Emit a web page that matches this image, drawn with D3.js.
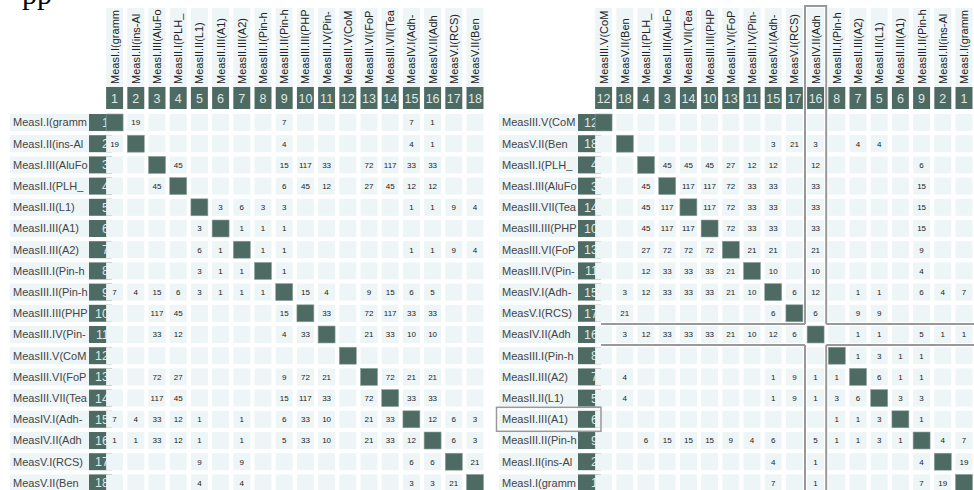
<!DOCTYPE html>
<html>
<head>
<meta charset="utf-8">
<script src="https://cdn.jsdelivr.net/npm/d3@7"></script>
<style>
  body { margin: 0; background: #fff; overflow: hidden; }
  text { font-family: "Liberation Sans", Arial, sans-serif; }
</style>
</head>
<body>
<div id="my_dataviz"></div>
<script>
// node labels (id 1..18)
var labels = ["MeasI.I(gramm", "MeasI.II(ins-Al", "MeasI.III(AluFo", "MeasII.I(PLH_",
  "MeasII.II(L1)", "MeasII.III(A1)", "MeasII.III(A2)", "MeasIII.I(Pin-h", "MeasIII.II(Pin-h",
  "MeasIII.III(PHP", "MeasIII.IV(Pin-", "MeasIII.V(CoM", "MeasIII.VI(FoP", "MeasIII.VII(Tea",
  "MeasIV.I(Adh-", "MeasIV.II(Adh", "MeasV.I(RCS)", "MeasV.II(Ben"];

// orders of the two matrices
var orderLeft = [1, 2, 3, 4, 5, 6, 7, 8, 9, 10, 11, 12, 13, 14, 15, 16, 17, 18];
var orderRight = [12, 18, 4, 3, 14, 10, 13, 11, 15, 17, 16, 8, 7, 5, 6, 9, 2, 1];

// links: source, target, weight
var linkSource = [1, 1, 1, 1, 2, 2, 2, 3, 3, 3, 3, 3, 3, 3, 3, 4, 4, 4, 4, 4, 4, 4,
  5, 5, 5, 5, 5, 5, 5, 5, 6, 6, 6, 7, 7, 7, 7, 7, 7, 8, 9, 9, 9, 9, 9, 9,
  10, 10, 10, 10, 10, 11, 11, 11, 11, 13, 13, 13, 14, 14, 15, 15, 15, 16, 16, 17];
var linkTarget = [2, 9, 15, 16, 9, 15, 16, 4, 9, 10, 11, 13, 14, 15, 16, 9, 10, 11, 13, 14, 15, 16,
  6, 7, 8, 9, 15, 16, 17, 18, 7, 8, 9, 8, 9, 15, 16, 17, 18, 9, 10, 11, 13, 14, 15, 16,
  11, 13, 14, 15, 16, 13, 14, 15, 16, 14, 15, 16, 15, 16, 16, 17, 18, 17, 18, 18];
var linkValue = [19, 7, 7, 1, 4, 4, 1, 45, 15, 117, 33, 72, 117, 33, 33, 6, 45, 12, 27, 45, 12, 12,
  3, 6, 3, 3, 1, 1, 9, 4, 1, 1, 1, 1, 1, 1, 1, 9, 4, 1, 15, 4, 9, 15, 6, 5,
  33, 72, 117, 33, 33, 21, 33, 10, 10, 72, 21, 21, 33, 33, 12, 6, 3, 6, 3, 21];

var highlightNode = 16;   // crosshair on the right matrix
var hoverLabel = 6;       // outlined row label on the right matrix

var width = 974, height = 490;
var dark = "#4e6b63", light = "#edf5f7";

var svg = d3.select("#my_dataviz")
  .append("svg")
    .attr("width", width)
    .attr("height", height);

// clip paths for the labels
var defs = svg.append("defs");
defs.append("clipPath").attr("id", "rowclip")
  .append("rect").attr("x", 10).attr("y", -2).attr("width", 78).attr("height", 22);
defs.append("clipPath").attr("id", "colclip")
  .append("rect").attr("x", -2).attr("y", 8).attr("width", 22).attr("height", 78);

// weight lookup
var weight = {};
linkSource.forEach(function(s, i) {
  weight[s + "-" + linkTarget[i]] = linkValue[i];
  weight[linkTarget[i] + "-" + s] = linkValue[i];
});

svg.append("text")
  .attr("x", 22)
  .attr("y", 4)
  .style("font-family", "'Liberation Serif', 'Times New Roman', serif")
  .style("font-size", "30px")
  .attr("fill", "#000")
  .text("pp");

function drawMatrix(order, ox, highlight) {
  var g = svg.append("g").attr("transform", "translate(" + ox + ",0)");

  var x = d3.scaleBand()
    .domain(order)
    .range([104, 104 + 18 * 21.2])
    .paddingInner(0.2)
    .paddingOuter(0.1);
  var y = d3.scaleBand()
    .domain(order)
    .range([111.9, 111.9 + 18 * 21.2])
    .paddingInner(0.2)
    .paddingOuter(0.1);
  var bw = x.bandwidth();

  // column headers
  var col = g.selectAll(".col")
    .data(order)
    .enter().append("g")
      .attr("transform", function(d) { return "translate(" + x(d) + ",0)"; });
  col.append("rect")
    .attr("y", 8).attr("width", bw).attr("height", 79)
    .attr("fill", light);
  col.append("rect")
    .attr("y", 87).attr("width", bw).attr("height", 22)
    .attr("fill", dark);
  col.append("g")
    .attr("clip-path", "url(#colclip)")
    .append("text")
      .attr("transform", "translate(" + (bw / 2 + 4) + ",84)rotate(-90)")
      .attr("font-size", "11px")
      .attr("fill", "#222")
      .text(function(d) { return labels[d - 1]; });
  col.append("text")
    .attr("x", bw / 2).attr("y", 103)
    .attr("text-anchor", "middle")
    .attr("font-size", "12.5px")
    .attr("fill", "#dfe9e6")
    .text(function(d) { return d; });

  // row headers
  var row = g.selectAll(".row")
    .data(order)
    .enter().append("g")
      .attr("transform", function(d) { return "translate(0," + y(d) + ")"; });
  row.append("rect")
    .attr("x", 10).attr("width", 79).attr("height", bw)
    .attr("fill", light);
  row.append("rect")
    .attr("x", 89).attr("width", 23).attr("height", bw)
    .attr("fill", dark);
  row.append("g")
    .attr("clip-path", "url(#rowclip)")
    .append("text")
      .attr("x", 13).attr("y", bw / 2 + 4)
      .attr("font-size", "11px")
      .attr("fill", "#444")
      .text(function(d) { return labels[d - 1]; });
  row.append("text")
    .attr("x", 109).attr("y", bw / 2 + 4.5)
    .attr("text-anchor", "end")
    .attr("font-size", "12.5px")
    .attr("fill", "#dfe9e6")
    .text(function(d) { return d; });

  // cells
  var cells = [];
  order.forEach(function(r) {
    order.forEach(function(c) {
      cells.push({ r: r, c: c, v: weight[r + "-" + c] });
    });
  });
  var cell = g.selectAll(".cell")
    .data(cells)
    .enter().append("g")
      .attr("transform", function(d) { return "translate(" + x(d.c) + "," + y(d.r) + ")"; });
  cell.append("rect")
    .attr("width", bw).attr("height", bw)
    .attr("fill", function(d) { return d.r === d.c ? dark : light; })
    .attr("stroke", function(d) { return d.r === d.c ? "#8aa39c" : "none"; })
    .attr("stroke-width", 0.6);
  cell.filter(function(d) { return d.v; })
    .append("text")
      .attr("x", bw / 2).attr("y", bw / 2 + 3)
      .attr("text-anchor", "middle")
      .attr("font-size", "8px")
      .attr("fill", "#222")
      .text(function(d) { return d.v; });

  if (highlight) {
    var step = x.step(), gap = step - bw;
    var cx0 = x(highlight) - gap / 2, cx1 = x(highlight) + bw + gap / 2;
    var ry0 = y(highlight) - gap / 2, ry1 = y(highlight) + bw + gap / 2;
    var left = 112, right = width - ox + 10, top = 6, bottom = height + 10;
    var path = d3.path();
    // column band
    path.moveTo(cx0, bottom); path.lineTo(cx0, ry1);
    path.moveTo(cx0, ry0); path.lineTo(cx0, top); path.lineTo(cx1, top); path.lineTo(cx1, ry0);
    path.moveTo(cx1, ry1); path.lineTo(cx1, bottom);
    // row band
    path.moveTo(left, ry0); path.lineTo(cx0, ry0);
    path.moveTo(cx1, ry0); path.lineTo(right, ry0);
    path.moveTo(left, ry1); path.lineTo(cx0, ry1);
    path.moveTo(cx1, ry1); path.lineTo(right, ry1);
    g.append("path")
      .attr("d", path.toString())
      .attr("fill", "none")
      .attr("stroke", "#999")
      .attr("stroke-width", 2);

    g.append("rect")
      .attr("x", 7.5).attr("y", y(hoverLabel) - 3.5)
      .attr("width", 104.5).attr("height", bw + 7)
      .attr("fill", "none")
      .attr("stroke", "#999")
      .attr("stroke-width", 1.5);
  }
}

drawMatrix(orderLeft, 0, null);
drawMatrix(orderRight, 489, highlightNode);
</script>
</body>
</html>
